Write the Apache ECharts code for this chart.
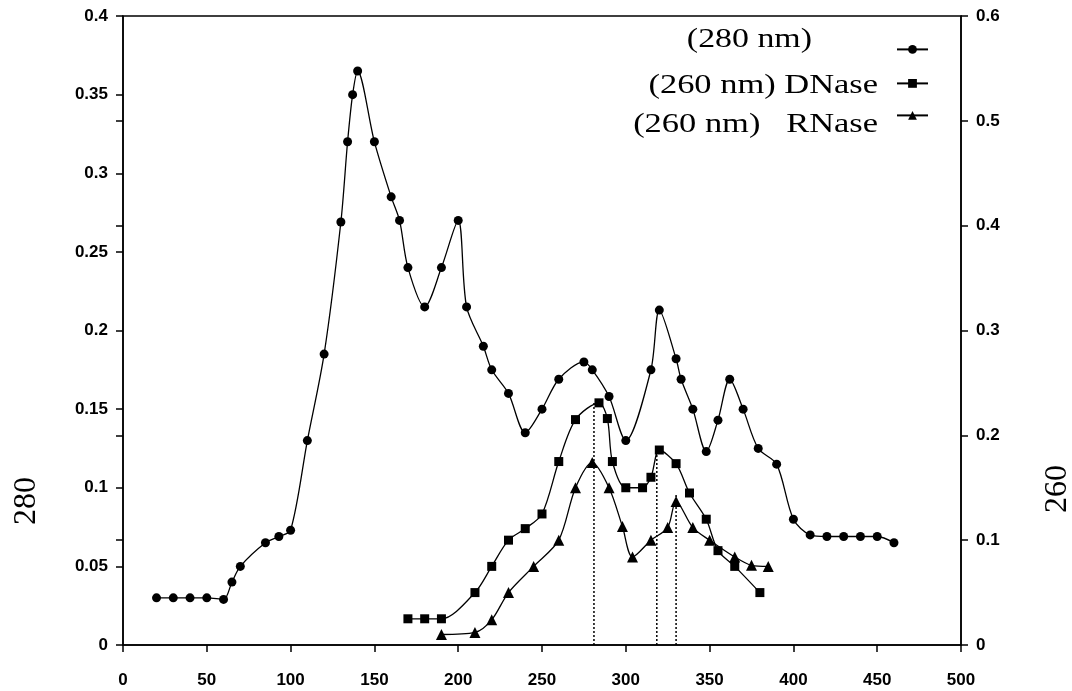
<!DOCTYPE html>
<html>
<head>
<meta charset="utf-8">
<title>Absorbance profile</title>
<script src="https://cdn.jsdelivr.net/npm/echarts@6/dist/echarts.min.js"></script>
<style>
  html, body { margin: 0; padding: 0; background: #fff; }
  #chart { width: 1072px; height: 691px; }
</style>
</head>
<body>
<div id="chart"></div>
<script>
// Fraction axis (shared by all curves)
const xTicks = { min: 0, max: 500, interval: 50 };

// Protein absorbance at 280 nm (left axis)
const x280 = [20, 30, 40, 50, 60, 65, 70, 85, 93, 100, 110, 120, 130, 134, 137, 140, 150, 160, 165, 170,
  180, 190, 200, 205, 215, 220, 230, 240, 250, 260, 275, 280, 290, 300, 315, 320, 330, 333, 340, 348,
  355, 362, 370, 379, 390, 400, 410, 420, 430, 440, 450, 460];
const y280 = [0.03, 0.03, 0.03, 0.03, 0.029, 0.04, 0.05, 0.065, 0.069, 0.073, 0.13, 0.185, 0.269, 0.32, 0.35, 0.365, 0.32, 0.285, 0.27, 0.24,
  0.215, 0.24, 0.27, 0.215, 0.19, 0.175, 0.16, 0.135, 0.15, 0.169, 0.18, 0.175, 0.158, 0.13, 0.175, 0.213, 0.182, 0.169, 0.15, 0.123,
  0.143, 0.169, 0.15, 0.125, 0.115, 0.08, 0.07, 0.069, 0.069, 0.069, 0.069, 0.065];

// DNase activity read at 260 nm (right axis)
const xDNase = [170, 180, 190, 210, 220, 230, 240, 250, 260, 270, 284, 289, 292, 300, 310, 315, 320, 330, 338, 348, 355, 365, 380];
const yDNase = [0.025, 0.025, 0.025, 0.05, 0.075, 0.1, 0.111, 0.125, 0.175, 0.215, 0.231, 0.216, 0.175, 0.15, 0.15, 0.16, 0.186, 0.173, 0.145, 0.12, 0.09, 0.075, 0.05];

// RNase activity read at 260 nm (right axis)
const xRNase = [190, 210, 220, 230, 245, 260, 270, 280, 290, 298, 304, 315, 325, 330, 340, 350, 365, 375, 385];
const yRNase = [0.01, 0.012, 0.024, 0.05, 0.075, 0.1, 0.15, 0.174, 0.15, 0.113, 0.084, 0.1, 0.112, 0.137, 0.112, 0.1, 0.084, 0.076, 0.075];

// Dotted drop lines marking the activity peaks (right-axis heights)
const dropX = [281, 318.5, 330];
const dropTop = [0.231, 0.183, 0.145];

// Series names and the legend captions drawn next to their keys
const names = ['(280 nm)', '(260 nm) DNase', '(260 nm)   RNase'];

const pairs = (xs, ys) => xs.map((x, i) => [x, ys[i]]);

const labelFont = { fontFamily: '"Liberation Sans", Arial, sans-serif', fontWeight: 'bold', fontSize: 17, color: '#000' };
const serif = '"Liberation Serif", "Times New Roman", serif';
const axisLine = { show: true, onZero: false, lineStyle: { color: '#000', width: 1.5 } };

function curve(name, data, axis, symbol, size) {
  return {
    name, type: 'line', yAxisIndex: axis, data,
    smooth: 0.3, symbol, symbolSize: size,
    itemStyle: { color: '#000' },
    lineStyle: { color: '#000', width: 1.3 },
    emphasis: { disabled: true }, z: 3
  };
}

const dropSeries = dropX.map((x, i) => ({
  type: 'line', yAxisIndex: 1, data: [[x, 0], [x, dropTop[i]]],
  symbol: 'none', silent: true,
  lineStyle: { color: '#000', width: 1.5, type: [2, 2] }, z: 2
}));

function legendRow(name, top) {
  return {
    data: [name], orient: 'horizontal', left: 896, top, padding: 0,
    itemWidth: 31, itemHeight: 11, selectedMode: false,
    formatter: () => '', textStyle: { fontSize: 10, lineHeight: 10 }
  };
}

function caption(text, x, y, sx) {
  return {
    type: 'text', x, y, scaleX: sx, silent: true,
    style: { text, font: '28px ' + serif, fill: '#000', textAlign: 'right', textVerticalAlign: 'middle' }
  };
}

const chart = echarts.init(document.getElementById('chart'), null, { renderer: 'canvas' });
chart.setOption({
  backgroundColor: '#fff',
  animation: false,
  grid: {
    left: 123, right: 111, top: 16, bottom: 46, containLabel: false, outerBoundsMode: 'none',
    show: true, borderColor: '#000', borderWidth: 1.5
  },
  xAxis: {
    type: 'value', min: xTicks.min, max: xTicks.max, interval: xTicks.interval,
    axisLine, axisTick: { show: true, length: 7, lineStyle: { color: '#000', width: 1.5 } },
    axisLabel: Object.assign({ margin: 27 }, labelFont),
    splitLine: { show: false }
  },
  yAxis: [
    {
      type: 'value', position: 'left', min: 0, max: 0.4, interval: 0.05,
      name: '280', nameLocation: 'middle', nameRotate: 90, nameGap: 80,
      nameTextStyle: { fontFamily: serif, fontSize: 32, color: '#000', padding: [0, 341, 0, 0] },
      axisLine, axisTick: { show: true, length: 7, lineStyle: { color: '#000', width: 1.5 } },
      axisLabel: Object.assign({ margin: 15 }, labelFont),
      splitLine: { show: false }
    },
    {
      type: 'value', position: 'right', min: 0, max: 0.6, interval: 0.1,
      name: '260', nameLocation: 'middle', nameRotate: 90, nameGap: 81,
      nameTextStyle: { fontFamily: serif, fontSize: 32, color: '#000', padding: [0, 317, 0, 0] },
      axisLine, axisTick: { show: true, length: 7, lineStyle: { color: '#000', width: 1.5 } },
      axisLabel: Object.assign({ margin: 15 }, labelFont),
      splitLine: { show: false }
    },
    {
      // inner half of the right-axis ticks, so they cross the axis line
      type: 'value', position: 'right', min: 0, max: 0.6, interval: 0.1,
      axisLine: { show: false },
      axisTick: { show: true, inside: true, length: 7, lineStyle: { color: '#000', width: 1.5 } },
      axisLabel: { show: false }, splitLine: { show: false }
    }
  ],
  legend: [
    legendRow(names[0], 45),
    legendRow(names[1], 79),
    legendRow(names[2], 111)
  ],
  graphic: [
    caption(names[0], 812, 40, 1.21),
    caption(names[1], 878, 86, 1.23),
    caption(names[2], 878, 125, 1.23)
  ],
  series: [
    curve(names[0], pairs(x280, y280), 0, 'circle', 9),
    curve(names[1], pairs(xDNase, yDNase), 1, 'rect', 9),
    curve(names[2], pairs(xRNase, yRNase), 1, 'triangle', 11)
  ].concat(dropSeries)
});
</script>
</body>
</html>
